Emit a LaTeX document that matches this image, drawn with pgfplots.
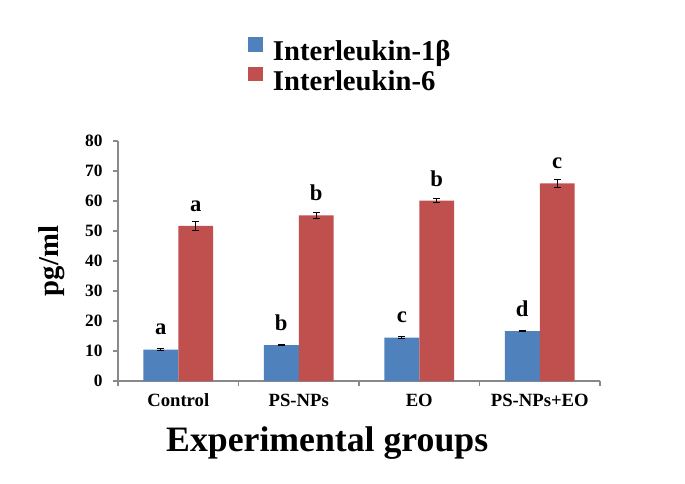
\documentclass[border=0pt]{standalone}
\usepackage{pgfplots}
\pgfplotsset{compat=1.18}
\usepackage{fontspec}
\setmainfont{Liberation Serif}
\definecolor{ilblue}{HTML}{4F81BD}
\definecolor{ilred}{HTML}{C0504D}
\definecolor{axgray}{HTML}{898989}

\pgfplotstableread{
x y e lab
0 10.5 0.2 a
1 12.0 0.2 b
2 14.5 0.2 c
3 16.6 0.25 d
}\ilone
\pgfplotstableread{
x y e lab
0 51.7 1.5 a
1 55.2 1.1 b
2 60.1 0.7 b
3 65.9 1.4 c
}\ilsix

\begin{document}
\begin{tikzpicture}
\useasboundingbox (0,0) rectangle (513.75pt,362.25pt);
\begin{axis}[
  at={(88.5pt,76.5pt)}, anchor=south west,
  scale only axis, width=361.5pt, height=180pt,
  xmin=-0.5, xmax=3.5, ymin=0, ymax=80,
  axis x line*=bottom, axis y line*=left,
  axis line style={axgray, line width=0.8pt},
  tick style={axgray, line width=0.8pt},
  tick align=outside, major tick length=3.75pt,
  ytick={0,10,...,80},
  /pgf/number format/assume math mode=true,
  y tick label style={font=\bfseries\fontsize{13}{15}\selectfont, xshift=-4.4pt, text=black},
  xtick={-0.5,0.5,1.5,2.5,3.5}, xticklabels={},
  extra x ticks={0,1,2,3},
  extra x tick labels={Control,PS-NPs,EO,PS-NPs+EO},
  extra x tick style={major tick length=0pt, tick label style={font=\bfseries\fontsize{14}{16}\selectfont, yshift=-6pt, text=black}},
  ylabel={pg/ml},
  ylabel style={font=\bfseries\fontsize{21.5}{24}\selectfont, at={(axis description cs:-0.137,0.5)}, anchor=center},
  xlabel={Experimental groups},
  xlabel style={font=\bfseries\fontsize{26.8}{30}\selectfont, at={(axis description cs:0.434,-0.293)}, anchor=base},
  ybar=0pt, bar width=0.29,
  point meta=explicit symbolic,
  nodes near coords,
  nodes near coords style={font=\bfseries\fontsize{17}{18}\selectfont, anchor=base, inner sep=0pt, yshift=11pt, text=black},
  legend image code/.code={\fill[#1,draw=none] (0pt,1.8pt) rectangle (11pt,12.8pt);},
  legend cell align=left,
  legend style={at={(axis description cs:0.2697,1.4346)}, anchor=north west, draw=none, fill=none, inner sep=0pt, column sep=7.5pt, row sep=-0.5pt, font=\bfseries\fontsize{21.5}{24}\selectfont, nodes={inner sep=0pt, text height=15pt, text depth=5pt}},
]
\addplot[fill=ilblue, draw=none, bar shift=-0.145,
  error bars/.cd, y dir=both, y explicit,
  error bar style={black, line width=0.8pt},
  error mark options={rotate=90, black, mark size=2.5pt, line width=0.8pt}]
  table[x=x, y=y, y error=e, meta=lab] {\ilone};
\addlegendentry{Interleukin-1β}
\addplot[fill=ilred, draw=none, bar shift=0.145,
  error bars/.cd, y dir=both, y explicit,
  error bar style={black, line width=0.8pt},
  error mark options={rotate=90, black, mark size=2.5pt, line width=0.8pt}]
  table[x=x, y=y, y error=e, meta=lab] {\ilsix};
\addlegendentry{Interleukin-6}
\end{axis}
\end{tikzpicture}
\end{document}
